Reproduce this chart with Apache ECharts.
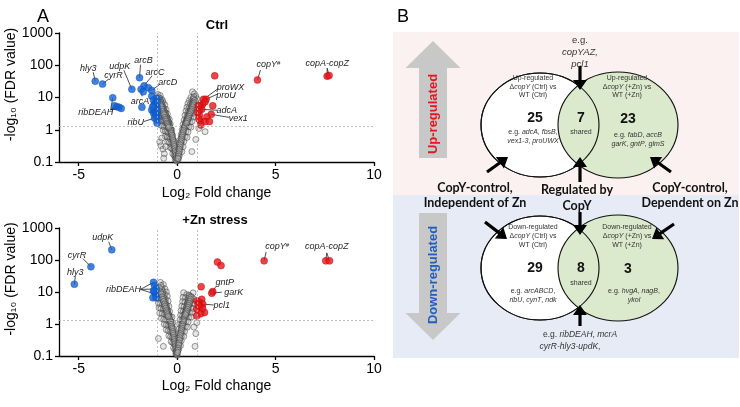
<!DOCTYPE html>
<html><head><meta charset="utf-8">
<script src="https://cdn.jsdelivr.net/npm/echarts@6/dist/echarts.min.js"></script>
<style>html,body{margin:0;padding:0;background:#fff}#c{width:740px;height:407px}</style>
</head><body><div id="c"></div>
<script>
// ---------------- DATA ----------------
const xTicks = [-5, 0, 5, 10];
const xRange = [-6, 10];
const yRange = [0.1, 1000];
const fdrCut = 1.3;
const fcCuts = [-1, 1];

// Ctrl: down-regulated (blue) [log2FC, -log10 FDR, label]
const ctrlDown = [
  [-4.16,32,'hly3'],[-3.79,26,'cyrR'],[-2.30,18,'udpK'],[-1.91,41,'arcB'],[-1.68,23,'arcC'],
  [-1.46,20],[-1.29,16.6,'arcD'],[-1.83,18,'arcA'],[-1.72,15],[-1.29,11],
  [-3.27,9.8,'ribDEAH'],[-3.18,5.5,'ribDEAH'],[-3.06,5.2,'ribDEAH'],[-2.95,5.0,'ribDEAH'],[-2.84,4.6,'ribDEAH'],
  [-1.79,5.0],[-1.03,2.4,'ribU'],[-1.03,2.0],[-1.02,1.6],
  [-1.2,8.3],[-1.12,6.6],[-1.03,9.4],[-1.03,5.2],[-1.29,4.1],[-1.2,3.3],[-1.12,3.6],[-1.03,3.3],
  [-1.17,5.8],[-1.0,7.4],[-1.0,4.1],[-1.24,5.2],[-1.1,2.8],[-1.15,2.3]
];
// Ctrl: up-regulated (red)
const ctrlUp = [
  [7.62,46,'copA-copZ'],[7.72,48,'copA-copZ'],[4.08,35,'copY'],[1.91,47],
  [1.34,8.8,'proWX'],[1.47,8.8,'proU'],[1.2,5.5],[1.3,6.3],[1.42,7.4],[1.25,4.3,'adcA'],
  [1.81,5.5],[1.73,3.0,'vex1'],[1.51,2.5],[1.13,2.8],[1.17,1.9],[1.42,1.8],[1.64,1.8],
  [1.2,1.4],[1.13,4.1],[1.08,5.5],[1.05,3.5],[1.1,2.2]
];
// Ctrl: not significant (grey)
const ctrlOther = [
  [-1.05,11],[-0.98,12.5],[-0.92,10],[-0.86,11.5],[-0.8,9],[-0.74,8],
  [-1.02,8.5],[-0.95,7.5],[-0.88,7],[-0.8,6.5],[-0.7,6.8],[-0.62,5.8],
  [-1.05,6],[-0.97,5.2],[-0.9,5.5],[-0.83,4.8],[-0.75,5],[-0.66,4.5],[-0.56,4.2],
  [-1.0,4.2],[-0.93,3.8],[-0.85,3.5],[-0.77,3.9],[-0.7,3.3],[-0.6,3.4],[-0.5,3.1],
  [-0.95,3],[-0.88,2.7],[-0.8,2.6],[-0.72,2.5],[-0.64,2.7],[-0.55,2.4],[-0.47,2.3],[-0.4,2.1],
  [-0.9,2.1],[-0.82,1.9],[-0.74,1.8],[-0.66,1.9],[-0.58,1.7],[-0.5,1.6],[-0.42,1.7],[-0.35,1.5],
  [-0.85,1.4],[-0.75,1.3],[-0.65,1.25],[-0.55,1.2],[-0.47,1.15],[-0.4,1.1],[-0.32,1.05],[-0.27,1.0],
  [-0.7,0.95],[-0.6,0.9],[-0.52,0.85],[-0.45,0.8],[-0.38,0.75],[-0.3,0.72],[-0.24,0.7],
  [-0.6,0.62],[-0.5,0.6],[-0.42,0.56],[-0.35,0.52],[-0.28,0.5],[-0.21,0.48],[-0.16,0.45],
  [-0.48,0.42],[-0.4,0.4],[-0.32,0.37],[-0.25,0.35],[-0.18,0.33],[-0.12,0.31],
  [-0.35,0.28],[-0.27,0.26],[-0.2,0.24],[-0.14,0.22],[-0.09,0.2],
  [-0.22,0.18],[-0.15,0.16],[-0.1,0.15],[-0.06,0.14],[-0.1,0.12],[-0.05,0.115],[-0.02,0.105],
  [-0.88,0.42],[-0.82,0.32],[-0.72,0.25],[-0.65,0.18],[-0.78,0.55],[-0.68,0.13],[-0.58,0.3],
  [-0.9,9.5],[-0.86,8.2],[-0.83,7.4],[-0.79,6.3],[-0.76,5.6],[-0.73,4.9],[-0.7,4.3],[-0.67,3.9],
  [-0.63,3.5],[-0.6,3.1],[-0.57,2.8],[-0.54,2.5],[-0.51,2.2],[-0.48,1.95],[-0.45,1.75],[-0.43,1.55],
  [-0.4,1.4],[-0.38,1.25],[-0.36,1.1],[-0.33,0.98],[-0.31,0.88],[-0.29,0.78],[-0.26,0.68],[-0.24,0.6],
  [-0.22,0.53],[-0.2,0.46],[-0.18,0.4],[-0.16,0.35],[-0.14,0.3],[-0.12,0.26],[-0.1,0.22],[-0.08,0.19],
  [-0.06,0.16],[-0.04,0.13],
  [-0.95,8.8],[-0.9,7.2],[-0.84,6],[-0.8,5.2],[-0.77,4.4],[-0.73,3.7],[-0.7,3.2],[-0.66,2.9],
  [-0.62,2.4],[-0.59,2.1],[-0.55,1.85],[-0.52,1.6],[-0.49,1.45],[-0.46,1.3],[-0.43,1.18],
  [0.78,15],[0.88,13],[0.95,11],[0.7,10],[0.82,9.5],[1.0,9],
  [0.62,8],[0.74,7.5],[0.86,7.8],[0.95,7],[0.55,6.5],[0.66,6],[0.78,5.8],[0.9,6],[1.0,5.5],
  [0.5,5],[0.6,4.7],[0.7,4.5],[0.82,4.6],[0.93,4.2],
  [0.45,3.8],[0.55,3.5],[0.65,3.4],[0.76,3.2],[0.87,3.3],
  [0.4,2.8],[0.5,2.6],[0.6,2.5],[0.7,2.4],[0.82,2.5],
  [0.36,2.0],[0.45,1.9],[0.55,1.8],[0.65,1.7],[0.75,1.8],
  [0.3,1.45],[0.4,1.35],[0.5,1.3],[0.6,1.25],[0.7,1.2],
  [0.26,1.0],[0.35,0.95],[0.45,0.9],[0.55,0.85],
  [0.2,0.7],[0.3,0.66],[0.4,0.62],[0.5,0.58],
  [0.16,0.5],[0.25,0.46],[0.34,0.43],[0.12,0.36],[0.2,0.33],[0.3,0.3],
  [0.08,0.25],[0.15,0.23],[0.24,0.21],[0.05,0.17],[0.11,0.16],[0.02,0.12],[0.07,0.125],
  [1.42,0.87],[0.75,0.21],[1.1,1.1],[0.95,0.5],
  [0.85,10.5],[0.82,8.8],[0.8,7.2],[0.77,6.4],[0.74,5.5],[0.71,4.8],[0.68,4.2],[0.65,3.7],
  [0.62,3.3],[0.59,2.9],[0.56,2.6],[0.53,2.3],[0.5,2.05],[0.47,1.85],[0.44,1.65],[0.42,1.5],
  [0.39,1.35],[0.37,1.2],[0.35,1.08],[0.32,0.96],[0.3,0.86],[0.28,0.76],[0.26,0.67],[0.24,0.59],
  [0.22,0.52],[0.2,0.45],[0.18,0.39],[0.16,0.34],[0.14,0.29],[0.12,0.25],[0.1,0.21],[0.08,0.18],
  [0.06,0.15],[0.04,0.13],
  [0.9,8.2],[0.86,6.8],[0.83,5.9],[0.79,5.1],[0.75,4.3],[0.72,3.8],[0.68,3.4],[0.64,2.95],
  [0.6,2.6],[0.57,2.3],[0.54,2.05],[0.51,1.8],[0.48,1.6]
];

// +Zn: down-regulated (blue)
const znDown = [
  [-3.32,208,'udpK'],[-4.38,62,'cyrR'],[-5.22,17.5,'hly3'],
  [-1.2,20,'ribDEAH'],[-1.15,16],[-1.07,12.4,'ribDEAH'],[-1.17,10.3],[-1.1,8.5,'ribDEAH'],
  [-1.23,6.6],[-1.07,6.6],[-1.2,11]
];
// +Zn: up-regulated (red)
const znUp = [
  [7.55,94,'copA-copZ'],[7.74,94,'copA-copZ'],[4.42,94,'copY'],[2.05,86],[2.23,67],[1.22,14.7],
  [1.81,10.3,'gntP'],[1.76,9.2,'garK'],[1.25,5.9],[1.0,5.2],[1.12,4.8],[1.3,4.2,'pcl1'],
  [1.17,3.5],[1.0,2.9],[1.39,2.3],[1.2,2.1],[1.0,1.8],[1.29,3.1],[1.08,3.9]
];
// +Zn: not significant (grey)
const znOther = [
  [-0.85,20],[-0.7,17],[-0.78,14],[-0.62,12.5],[-1.0,13],[-0.9,11],[-0.72,10.5],[-0.55,10],
  [-0.98,9],[-0.85,8.5],[-0.75,8],[-0.62,8.2],[-0.5,7.5],
  [-1.02,6.5],[-0.92,6],[-0.8,6.2],[-0.7,5.6],[-0.58,5.8],[-0.46,5.2],
  [-0.95,4.5],[-0.85,4.3],[-0.75,4],[-0.64,4.2],[-0.53,3.8],[-0.42,3.6],
  [-0.92,3.2],[-0.82,3],[-0.7,2.9],[-0.6,2.8],[-0.48,2.6],[-0.38,2.5],
  [-0.88,2.2],[-0.76,2.1],[-0.65,2.0],[-0.55,1.9],[-0.44,1.8],[-0.34,1.7],[-0.26,1.65],
  [-0.8,1.5],[-0.68,1.4],[-0.58,1.35],[-0.48,1.3],[-0.38,1.2],[-0.3,1.15],[-0.22,1.1],
  [-0.65,0.98],[-0.55,0.92],[-0.46,0.88],[-0.37,0.82],[-0.29,0.78],[-0.2,0.74],
  [-0.55,0.66],[-0.45,0.62],[-0.36,0.58],[-0.28,0.54],[-0.2,0.5],[-0.13,0.47],
  [-0.42,0.43],[-0.33,0.4],[-0.25,0.37],[-0.17,0.34],[-0.1,0.31],
  [-0.3,0.28],[-0.22,0.26],[-0.15,0.24],[-0.08,0.21],[-0.18,0.18],[-0.11,0.16],[-0.05,0.14],
  [-0.07,0.12],[-0.02,0.11],[0,0.105],
  [-0.82,16],[-0.78,12],[-0.74,9.5],[-0.7,7.8],[-0.67,6.5],[-0.64,5.4],[-0.6,4.6],[-0.57,3.9],
  [-0.54,3.3],[-0.51,2.8],[-0.48,2.4],[-0.45,2.1],[-0.42,1.85],[-0.4,1.6],[-0.37,1.42],[-0.35,1.25],
  [-0.32,1.1],[-0.3,0.97],[-0.28,0.86],[-0.26,0.76],[-0.24,0.67],[-0.22,0.58],[-0.2,0.51],[-0.18,0.44],
  [-0.16,0.38],[-0.14,0.33],[-0.12,0.28],[-0.1,0.24],[-0.08,0.2],[-0.06,0.17],[-0.04,0.14],[-0.03,0.12],
  [-0.9,13.5],[-0.84,10],[-0.8,8.6],[-0.76,7],[-0.72,5.9],[-0.69,5],[-0.65,4.2],[-0.62,3.6],
  [-0.58,3.1],[-0.55,2.6],[-0.52,2.25],[-0.49,1.95],[-0.46,1.7],
  [0.33,9.5],[0.49,8.3],[0.81,9.4],[0.6,8],[0.72,7.2],
  [0.3,6.8],[0.42,6.5],[0.55,6.2],[0.68,5.8],[0.85,6],
  [0.28,5],[0.4,4.8],[0.52,4.5],[0.64,4.3],[0.76,4.4],[0.9,4.1],
  [0.24,3.6],[0.35,3.4],[0.47,3.3],[0.58,3.1],[0.7,3.2],[0.82,3.0],
  [0.2,2.6],[0.32,2.5],[0.43,2.4],[0.54,2.3],[0.65,2.2],[0.78,2.3],
  [0.18,1.9],[0.28,1.8],[0.38,1.75],[0.5,1.7],[0.6,1.6],[0.72,1.65],
  [0.15,1.35],[0.25,1.3],[0.35,1.25],[0.45,1.2],[0.56,1.15],
  [0.13,0.98],[0.22,0.93],[0.32,0.88],[0.42,0.84],[0.52,0.8],
  [0.1,0.7],[0.19,0.66],[0.28,0.62],[0.38,0.58],
  [0.08,0.5],[0.16,0.47],[0.25,0.44],[0.34,0.41],[0.06,0.36],[0.13,0.33],[0.21,0.3],
  [0.04,0.25],[0.1,0.23],[0.17,0.21],[0.02,0.17],[0.07,0.16],[0.01,0.125],
  [0.91,0.2],[0.95,0.5],[1.0,1.1],[0.85,0.8],[-0.95,0.35],[-0.7,0.2],
  [0.62,7.5],[0.6,6.6],[0.58,5.6],[0.55,4.8],[0.52,4.1],[0.5,3.6],[0.47,3.1],[0.45,2.7],
  [0.42,2.35],[0.4,2.05],[0.38,1.8],[0.36,1.6],[0.34,1.4],[0.32,1.24],[0.3,1.1],[0.28,0.97],
  [0.26,0.86],[0.24,0.75],[0.22,0.66],[0.2,0.57],[0.18,0.5],[0.16,0.43],[0.14,0.37],[0.12,0.31],
  [0.1,0.26],[0.08,0.22],[0.06,0.18],[0.04,0.15],[0.03,0.13],
  [0.7,6.9],[0.67,5.9],[0.64,5.1],[0.61,4.4],[0.58,3.8],[0.55,3.3],[0.52,2.85],[0.49,2.5],
  [0.46,2.2],[0.43,1.95]
];

// Venn counts [left only, shared, right only]
const vennUpCounts = [25, 7, 23];
const vennDownCounts = [29, 8, 3];

// ---------------- STYLE ----------------
const F = '"Liberation Sans", Arial, sans-serif';
const FB = 'Lato, "Open Sans", sans-serif';
const BLUE = '#1463d6', RED = '#e5161c';
// label placement: [textDx, textDy, lineEndDx, lineEndDy] relative to first point of the label
const labelCfg = [
  { hly3:[-7,-13,-2,-9], cyrR:[11,-9,6,-5], udpK:[-12,-23,-8,-19], arcB:[4,-17,1,-13], arcC:[11,-13,8,-10],
    arcD:[16,-8,8,-6], arcA:[-1,12,1,7], ribDEAH:[-17,15,-2,12], ribU:[-21,5,-13,4],
    copY:[11,-15,3,-10], 'copA-copZ':[0,-13,0,-8], proWX:[27,-12,15,-11], proU:[20,-4,11,-5],
    adcA:[25,1,16,1], vex1:[27,4,18,3] },
  { udpK:[-9,-12,-3,-8], cyrR:[-14,-11,-8,-8], hly3:[1,-12,1,-8], ribDEAH:[-30,7,-13,7],
    copY:[13,-14,2,-9], 'copA-copZ':[1,-14,1,-8], gntP:[12,-9,3,-5], garK:[22,-1,10,-1], pcl1:[19,1,11,1] }
];

const chart = echarts.init(document.getElementById('c'));

function xAx(i, gap) {
  return {
    type:'value', gridIndex:i, min:xRange[0], max:xRange[1],
    axisLine:{show:true, onZero:false, lineStyle:{color:'#000', width:1.3}},
    axisTick:{show:true, customValues:xTicks, length:4, lineStyle:{color:'#000', width:1.3}},
    axisLabel:{customValues:xTicks, fontSize:14, color:'#000', fontFamily:F, margin:6},
    splitLine:{show:false},
    name:'Log₂ Fold change', nameLocation:'middle', nameGap:gap,
    nameTextStyle:{fontSize:14, color:'#000', fontFamily:F}
  };
}
function yAx(i) {
  return {
    type:'log', logBase:10, gridIndex:i, min:yRange[0], max:yRange[1],
    axisLine:{show:true, onZero:false, lineStyle:{color:'#000', width:1.3}},
    axisTick:{show:true, length:4, lineStyle:{color:'#000', width:1.3}},
    axisLabel:{fontSize:14, color:'#000', fontFamily:F, margin:6, formatter:v => String(+(+v).toPrecision(3))},
    splitLine:{show:false}, minorTick:{show:false},
    name:'-log₁₀ (FDR value)', nameLocation:'middle', nameGap:34, nameRotate:90,
    nameTextStyle:{fontSize:14, color:'#000', fontFamily:F, padding:[0,0,0,26]}
  };
}
function pts(arr){ return arr.map(d => [d[0], d[1]]); }
function seriesFor(i, other, down, up) {
  return [
    { type:'scatter', xAxisIndex:i, yAxisIndex:i, data:pts(other), symbolSize:6, z:2,
      itemStyle:{color:'rgba(185,185,185,0.45)', borderColor:'#333', borderWidth:0.6},
      markLine:{silent:true, symbol:['none','none'], label:{show:false},
        lineStyle:{type:[2,2], color:'#b0b0b0', width:0.8},
        data:[{xAxis:fcCuts[0]},{xAxis:fcCuts[1]},{yAxis:fdrCut}]}
    },
    { type:'scatter', xAxisIndex:i, yAxisIndex:i, data:pts(down), symbolSize:7, z:3,
      itemStyle:{color:BLUE, borderColor:'#0c4fb0', borderWidth:0.5} },
    { type:'scatter', xAxisIndex:i, yAxisIndex:i, data:pts(up), symbolSize:7, z:3,
      itemStyle:{color:RED, borderColor:'#b00', borderWidth:0.5} }
  ];
}

chart.setOption({
  animation:false,
  backgroundColor:'#fff',
  grid:[{left:59, width:315, top:33, height:129}, {left:59, width:315, top:228, height:128}],
  xAxis:[xAx(0,24), xAx(1,23)],
  yAxis:[yAx(0), yAx(1)],
  series:[...seriesFor(0, ctrlOther, ctrlDown, ctrlUp), ...seriesFor(1, znOther, znDown, znUp)]
});

// ---------------- annotations ----------------
function rt(s){ return s.split('*').map((p,i)=> p ? (i%2 ? '{i|'+p+'}' : '{n|'+p+'}') : '').join(''); }
function txt(x, y, s, size, o) {
  o = o || {};
  const base = {fontSize:size, fontFamily:o.ff||F, fontWeight:o.fw||'normal', fill:o.color||'#333', color:o.color||'#333'};
  return {type:'text', x:x, y:y, rotation:o.rot||0, z:10, silent:true,
    style:{text:rt(s), fontSize:size, fontFamily:o.ff||F,
      rich:{n:Object.assign({}, base), i:Object.assign({fontStyle:'italic'}, base)},
      align:'center', verticalAlign:'middle', textAlign:'center', textVerticalAlign:'middle'}};
}
function arrow(x1, y1, x2, y2, w, hl, hw, color) {
  const L = Math.hypot(x2-x1, y2-y1), ux=(x2-x1)/L, uy=(y2-y1)/L, nx=-uy, ny=ux;
  const bx = x2-ux*hl, by = y2-uy*hl;
  const P = [[x1+nx*w/2, y1+ny*w/2],[bx+nx*w/2, by+ny*w/2],[bx+nx*hw/2, by+ny*hw/2],[x2,y2],
             [bx-nx*hw/2, by-ny*hw/2],[bx-nx*w/2, by-ny*w/2],[x1-nx*w/2, y1-ny*w/2]];
  return {type:'polygon', z:8, silent:true, shape:{points:P}, style:{fill:color}};
}
function ell(cx, cy, rx, ry, fill, stroke) {
  return {type:'circle', x:cx, y:cy, scaleX:rx/ry, z:6, silent:true, shape:{cx:0, cy:0, r:ry},
    style:{fill:fill, stroke:stroke, lineWidth:1, strokeNoScale:true}};
}

const els = [];
els.push(txt(43, 17, 'A', 18, {color:'#000'}));
els.push(txt(403, 17, 'B', 18, {color:'#000'}));
els.push(txt(217, 25, 'Ctrl', 13, {fw:'bold', color:'#000'}));
els.push(txt(215, 220, '+Zn stress', 13, {fw:'bold', color:'#000'}));

function addLabels(gi, arr, cfg) {
  const first = {};
  arr.forEach(d => {
    if (!d[2]) return;
    const key = d[2], c = cfg[key];
    const p = chart.convertToPixel({gridIndex:gi}, [d[0], d[1]]);
    if (!first[key]) {
      first[key] = p;
      els.push({type:'text', x:p[0]+c[0], y:p[1]+c[1], z:4, silent:true,
        style:{text: key==='copY' ? '{i|copY}{s|#}' : '{i|'+key+'}', fontSize:9, fontFamily:F,
          rich:{i:{fontStyle:'italic', fontSize:9, fontFamily:F, fill:'#222', color:'#222'},
                s:{fontSize:6, fontFamily:F, fill:'#222', color:'#222', verticalAlign:'top'}},
          align:'center', verticalAlign:'middle', textAlign:'center', textVerticalAlign:'middle'}});
    }
    const b = first[key];
    els.push({type:'line', z:1, silent:true, shape:{x1:p[0], y1:p[1], x2:b[0]+c[2], y2:b[1]+c[3]},
      style:{stroke:'#222', lineWidth:0.8}});
  });
}
addLabels(0, ctrlDown, labelCfg[0]);
addLabels(0, ctrlUp, labelCfg[0]);
addLabels(1, znDown, labelCfg[1]);
addLabels(1, znUp, labelCfg[1]);

// panel B backgrounds
els.push({type:'rect', z:0, silent:true, shape:{x:393, y:32, width:346, height:163}, style:{fill:'#fcf1f1'}});
els.push({type:'rect', z:0, silent:true, shape:{x:393, y:195, width:346, height:163}, style:{fill:'#e7ebf6'}});
els.push(arrow(433, 158, 433, 41, 28, 27, 55, '#c8c8c8'));
els.push(arrow(433, 213, 433, 340, 28, 27, 55, '#c8c8c8'));
els.push(txt(433, 114, 'Up-regulated', 13, {fw:'bold', color:RED, rot:Math.PI/2}));
els.push(txt(433, 275, 'Down-regulated', 13, {fw:'bold', color:'#1f5fc0', rot:Math.PI/2}));

// Venn diagrams; L = layout offsets
function venn(cy, counts, head, lx, rx, L) {
  els.push(ell(540, cy, 59, 52, '#ffffff', '#111'));
  els.push(ell(618, cy, 60, 53, '#dbeacd', '#111'));
  els.push(ell(540, cy, 59, 52, 'none', '#111'));
  const hs = 7;
  els.push(txt(533, cy+L.h[0], head, hs));
  els.push(txt(533, cy+L.h[1], 'Δ*copY* (Ctrl) vs', hs));
  els.push(txt(533, cy+L.h[2], 'WT (Ctrl)', hs));
  els.push(txt(627, cy+L.h[0], head, hs));
  els.push(txt(627, cy+L.h[1], 'Δ*copY* (+Zn) vs', hs));
  els.push(txt(627, cy+L.h[2], 'WT (+Zn)', hs));
  els.push(txt(535, cy+L.n, String(counts[0]), 14, {fw:'bold', color:'#111'}));
  els.push(txt(581, cy+L.n, String(counts[1]), 14, {fw:'bold', color:'#111'}));
  els.push(txt(628, cy+L.n+1, String(counts[2]), 14, {fw:'bold', color:'#111'}));
  els.push(txt(581, cy+L.s, 'shared', 7));
  lx.forEach((s,k) => els.push(txt(533, cy+L.g+9*k, s, 7)));
  rx.forEach((s,k) => els.push(txt(L.rx, cy+L.rg+9*k, s, 7)));
}
venn(125, vennUpCounts, 'Up-regulated', ['e.g. *adcA*, *fbsB*,', '*vex1-3*, *proUWX*'], ['e.g. *fabD*, *accB*', '*garK*, *gntP*, *glmS*'],
  {h:[-47,-38,-30], n:-7, s:7, g:7, rg:10, rx:638});
venn(268, vennDownCounts, 'Down-regulated', ['e.g. *arcABCD*,', '*ribU*, *cynT*, *ndk*'], ['e.g. *hvgA*, *nagB*,', '*ykol*'],
  {h:[-41,-32,-23], n:0, s:15, g:23, rg:23, rx:634});
// black arrows
els.push(arrow(580, 66, 580, 90, 3.2, 10, 14, '#000'));
els.push(arrow(580, 182, 580, 157, 3.2, 10, 14, '#000'));
els.push(arrow(487, 172, 508, 157, 3.2, 10, 14, '#000'));
els.push(arrow(671, 172, 650, 157, 3.2, 10, 14, '#000'));
els.push(arrow(580, 212, 580, 235, 3.2, 10, 14, '#000'));
els.push(arrow(580, 326, 580, 305, 3.2, 10, 14, '#000'));
els.push(arrow(485, 222, 507, 239, 3.2, 10, 14, '#000'));
els.push(arrow(674, 224, 652, 239, 3.2, 10, 14, '#000'));
// notes
els.push(txt(580, 40, 'e.g.', 9.5));
els.push(txt(580, 52, '*copYAZ,*', 9.5));
els.push(txt(580, 64, '*pcl1*', 9.5));
els.push(txt(580, 335, 'e.g. *ribDEAH*, *mcrA*', 8.5));
els.push(txt(570, 347, '*cyrR-hly3-updK*,', 8.5));
// group labels
els.push(txt(475, 188, 'CopY-control,', 12.5, {ff:FB, fw:'bold', color:'#111'}));
els.push(txt(475, 203, 'Independent of Zn', 12.5, {ff:FB, fw:'bold', color:'#111'}));
els.push(txt(577, 190, 'Regulated by', 12.5, {ff:FB, fw:'bold', color:'#111'}));
els.push(txt(577, 206, 'CopY', 12.5, {ff:FB, fw:'bold', color:'#111'}));
els.push(txt(690, 188, 'CopY-control,', 12.5, {ff:FB, fw:'bold', color:'#111'}));
els.push(txt(690, 203, 'Dependent on Zn', 12.5, {ff:FB, fw:'bold', color:'#111'}));

chart.setOption({graphic:{elements:els}});
</script>
</body></html>
